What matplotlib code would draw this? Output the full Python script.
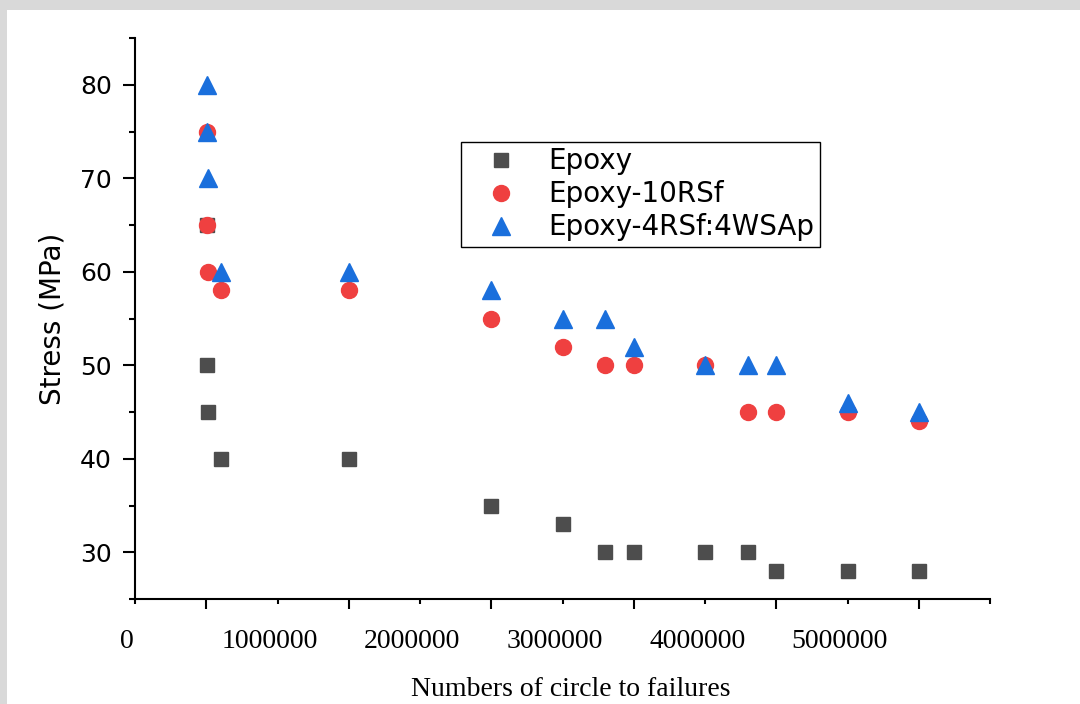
import numpy as np
import matplotlib
matplotlib.use('Agg')
import matplotlib.pyplot as plt
from matplotlib.patches import Rectangle
from matplotlib.transforms import ScaledTranslation

# Données
cycles = [5000, 5000, 10000, 100000, 1000000, 2000000, 2500000, 2800000,
          3000000, 3500000, 3800000, 4000000, 4500000, 5000000]
stress_epoxy = [65, 50, 45, 40, 40, 35, 33, 30, 30, 30, 30, 28, 28, 28]
stress_10rsf = [75, 65, 60, 58, 58, 55, 52, 50, 50, 50, 45, 45, 45, 44]
stress_4rsf = [80, 75, 70, 60, 60, 58, 55, 55, 52, 50, 50, 50, 46, 45]
labels = ['Epoxy', 'Epoxy-10RSf', 'Epoxy-4RSf:4WSAp']
xtick_vals = [0, 1000000, 2000000, 3000000, 4000000, 5000000]

fig = plt.figure(figsize=(10.8, 7.04), dpi=100)
fig.patch.set_facecolor('#d9d9d9')
fig.patches.append(Rectangle((7 / 1080, 0), 1, (704 - 10) / 704, transform=fig.transFigure,
                             facecolor='white', edgecolor='none', zorder=-10))

ax = fig.add_axes([135 / 1080, (704 - 599) / 704, 855 / 1080, 561 / 704])
ax.set_facecolor('none')

ax.plot(cycles, stress_epoxy, 's', color='#4d4d4d', markersize=10.5, label=labels[0], zorder=3)
ax.plot(cycles, stress_10rsf, 'o', color='#ef4040', markersize=11.5, label=labels[1], zorder=4)
ax.plot(cycles, stress_4rsf, '^', color='#1a6fdc', markersize=13, label=labels[2], zorder=5)

ax.set_xlim(-500000, 5500000)
ax.set_ylim(25, 85)
ax.set_xticks(xtick_vals)
ax.set_xticklabels([])
ax.set_xticks(np.arange(-500000, 5500001, 500000), minor=True)
ax.set_yticks([30, 40, 50, 60, 70, 80])
ax.set_yticks(np.arange(25, 86, 5), minor=True)
for t in ax.get_yticklabels():
    t.set_fontsize(18)
    t.set_family('DejaVu Sans')

# étiquettes x décalées vers la gauche comme sur l'original
off = ScaledTranslation(-0.79, -0.42, fig.dpi_scale_trans)
for v in xtick_vals:
    ax.text(v, 0, str(v), transform=ax.get_xaxis_transform() + off,
            ha='center', va='center', family='Liberation Serif', fontsize=20)

ax.tick_params(axis='x', which='major', direction='out', length=7.5, width=1.5)
ax.tick_params(axis='x', which='minor', direction='out', length=3.8, width=1.5)
ax.tick_params(axis='y', which='major', direction='out', length=8.6, width=1.5, pad=8)
ax.tick_params(axis='y', which='minor', direction='out', length=4.3, width=1.5)

for s in ['top', 'right']:
    ax.spines[s].set_visible(False)
for s in ['left', 'bottom']:
    ax.spines[s].set_linewidth(1.5)

ax.set_xlabel('Numbers of circle to failures', family='Liberation Serif', fontsize=20, va='center')
ax.xaxis.set_label_coords(0.51, -(690 - 599) / 561)
ax.set_ylabel('Stress (MPa)', family='DejaVu Sans', fontsize=20, labelpad=10)

leg = ax.legend(loc='upper left', bbox_to_anchor=(0.381, 0.815), prop={'family': 'DejaVu Sans', 'size': 20},
                frameon=True, fancybox=False, edgecolor='black', framealpha=1, borderaxespad=0,
                handletextpad=0.45, labelspacing=0.18, borderpad=0.2, handlelength=2.5)
leg.get_frame().set_linewidth(1.0)

fig.savefig('out.png', dpi=100, facecolor=fig.get_facecolor())
